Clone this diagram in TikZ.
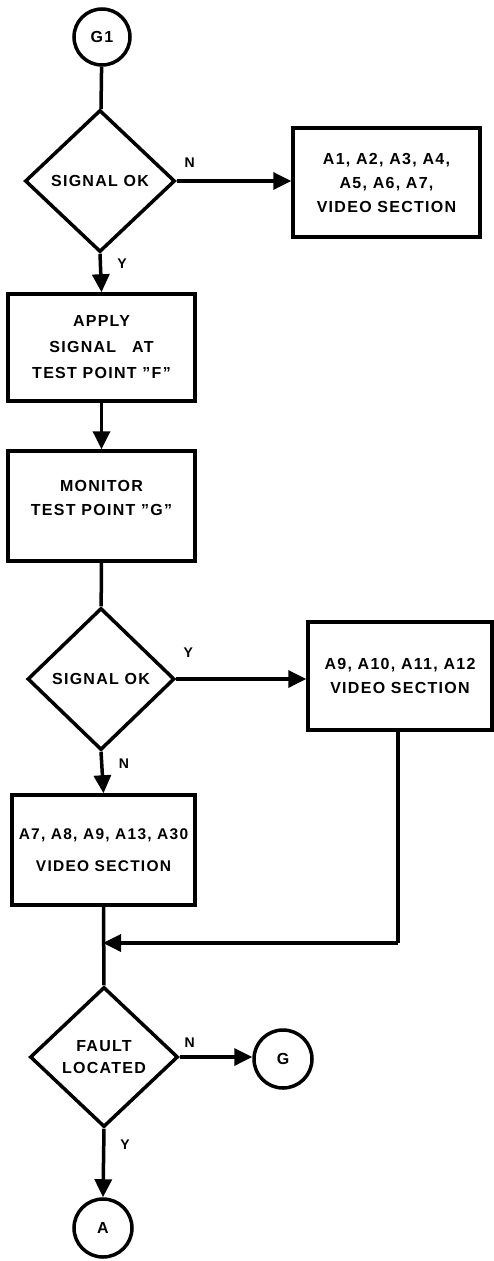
\documentclass[tikz,border=0pt]{standalone}
\usepackage{fontspec}
\setmainfont{Liberation Sans}[LetterSpace=8]
\usetikzlibrary{shapes.geometric,arrows.meta,calc}
\begin{document}
\begin{tikzpicture}[x=1pt,y=-1pt,
  every node/.style={font=\bfseries\fontsize{16}{24}\selectfont},
  conn/.style={draw,circle,line width=3.5pt,minimum size=56pt,inner sep=0pt},
  procbox/.style={draw,rectangle,line width=3.5pt,inner sep=0pt,align=center},
  decision/.style={draw,diamond,line width=3.5pt,inner sep=0pt,align=center},
  flow/.style={line width=3.5pt,-{Triangle[length=18pt,width=17pt]}},
  plain/.style={line width=3.5pt},
  lbl/.style={font=\bfseries\fontsize{14}{15}\selectfont,inner sep=0pt}]
\useasboundingbox (0,0) rectangle (493,1261);

\node[conn] (c1) at (102,37) {G1};
\node[decision,minimum width=150pt,minimum height=142pt] (d1) at (100,181) {SIGNAL OK};
\node[procbox,minimum width=187pt,minimum height=109pt] (b1) at (386.5,182.5) {A1, A2, A3, A4,\\A5, A6, A7,\\VIDEO SECTION};
\node[procbox,minimum width=187pt,minimum height=107pt,font=\bfseries\fontsize{16}{26}\selectfont] (b2) at (101.5,347.5) {APPLY\\SIGNAL\quad AT\\TEST POINT \symbol{34}F\symbol{34}};
\node[procbox,minimum width=187pt,minimum height=110pt] (b3) at (101.5,506) {MONITOR\\TEST POINT \symbol{34}G\symbol{34}\\[-8pt]\mbox{}};
\node[decision,minimum width=147pt,minimum height=142pt] (d2) at (101,679) {SIGNAL OK};
\node[procbox,minimum width=184pt,minimum height=108pt] (b4) at (400,676) {A9, A10, A11, A12\\VIDEO SECTION};
\node[procbox,minimum width=183pt,minimum height=110pt,font=\bfseries\fontsize{15.5}{32}\selectfont] (b5) at (103.5,850) {A7, A8, A9, A13, A30\\VIDEO SECTION};
\node[decision,minimum width=148pt,minimum height=140pt,font=\bfseries\fontsize{16}{22}\selectfont] (d3) at (104,1057) {FAULT\\LOCATED};
\node[conn,minimum size=58pt] (c2) at (283,1059) {G};
\node[conn,minimum size=58pt] (c3) at (103,1228) {A};
\coordinate (j) at (103,943);
\coordinate (k) at (398,943);

\draw[plain] (c1) -- (d1);
\draw[flow] (d1.east) -- (d1.east -| b1.west);
\node[lbl] (ln1) at ($(d1.east)+(13,-18)$) {N};
\draw[flow] (d1.south) -- (b2.north);
\node[lbl] (ly1) at ($(d1.south)+(22,10)$) {Y};
\draw[flow] (b2) -- (b3);
\draw[plain] (b3) -- (d2);
\draw[flow] (d2.east) -- (d2.east -| b4.west);
\node[lbl] (ly2) at ($(d2.east)+(12,-26)$) {Y};
\draw[flow] (d2.south) -- (b5.north);
\node[lbl] (ln2) at ($(d2.south)+(23,12)$) {N};
\draw[plain] (b5.south) -- (d3.north);
\draw[plain] (b4.south -| k) -- (k);
\draw[flow] (k) -- (j);
\draw[flow] (d3.east) -- (d3.east -| c2.west);
\node[lbl] (ln3) at ($(d3.east)+(10,-14)$) {N};
\draw[flow] (d3.south) -- (c3.north);
\node[lbl] (ly3) at ($(d3.south)+(21,16)$) {Y};
\end{tikzpicture}
\end{document}
